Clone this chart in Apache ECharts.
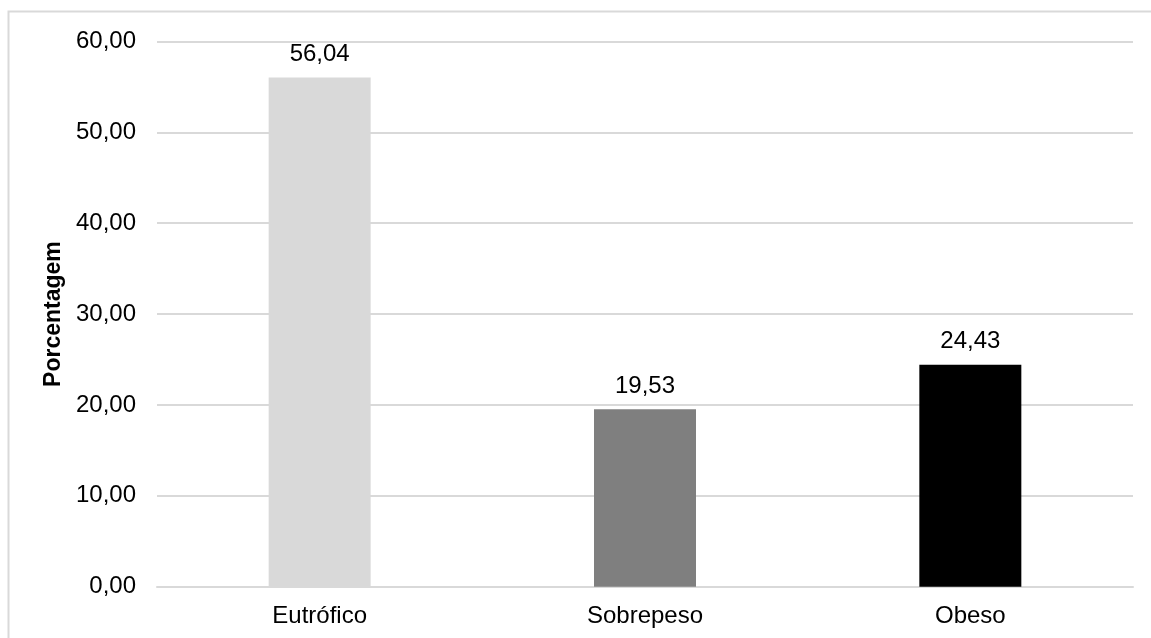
<!DOCTYPE html>
<html>
<head>
<meta charset="utf-8">
<script src="https://cdn.jsdelivr.net/npm/echarts@6/dist/echarts.min.js"></script>
<style>
  html, body { margin: 0; padding: 0; background: #fff; }
  #chart { width: 1151px; height: 638px; }
</style>
</head>
<body>
<div id="chart"></div>
<script>
// Nutritional status distribution (%)
const categories = ['Eutrófico', 'Sobrepeso', 'Obeso'];
const values = [56.04, 19.53, 24.43];
const barColors = ['#d9d9d9', '#7f7f7f', '#000000'];
const yTicks = { min: 0, max: 60, interval: 10 };
const yAxisTitle = 'Porcentagem';

const fmt = v => Number(v).toFixed(2).replace('.', ',');
const font = '"Liberation Sans", Arial, sans-serif';

const chart = echarts.init(document.getElementById('chart'), null, { renderer: 'canvas' });
chart.setOption({
  animation: false,
  backgroundColor: '#fff',
  textStyle: { fontFamily: font },
  graphic: [{
    type: 'rect',
    shape: { x: 8.5, y: 11.5, width: 1300, height: 800 },
    style: { fill: 'none', stroke: '#d9d9d9', lineWidth: 2 },
    silent: true,
    z: -1
  }],
  grid: { left: 157, right: 18, top: 41.5, bottom: 51.3 },
  xAxis: {
    type: 'category',
    data: categories,
    axisLine: { lineStyle: { color: '#d9d9d9', width: 2 } },
    axisTick: { show: false },
    axisLabel: { color: '#000', fontSize: 24, fontFamily: font, margin: 18 }
  },
  yAxis: {
    type: 'value',
    min: yTicks.min,
    max: yTicks.max,
    interval: yTicks.interval,
    name: yAxisTitle,
    nameLocation: 'middle',
    nameGap: 87,
    nameTextStyle: { color: '#000', fontSize: 23, fontWeight: 'bold', fontFamily: font },
    axisLine: { show: false },
    axisTick: { show: false },
    splitLine: { lineStyle: { color: '#d9d9d9', width: 2 } },
    axisLabel: { color: '#000', fontSize: 24, fontFamily: font, margin: 21, formatter: fmt }
  },
  series: [{
    type: 'bar',
    barWidth: 102,
    data: values.map((v, i) => ({ value: v, itemStyle: { color: barColors[i] } })),
    label: {
      show: true,
      position: 'top',
      distance: 11,
      color: '#000',
      fontSize: 24,
      fontFamily: font,
      formatter: p => fmt(p.value)
    }
  }]
});
</script>
</body>
</html>
